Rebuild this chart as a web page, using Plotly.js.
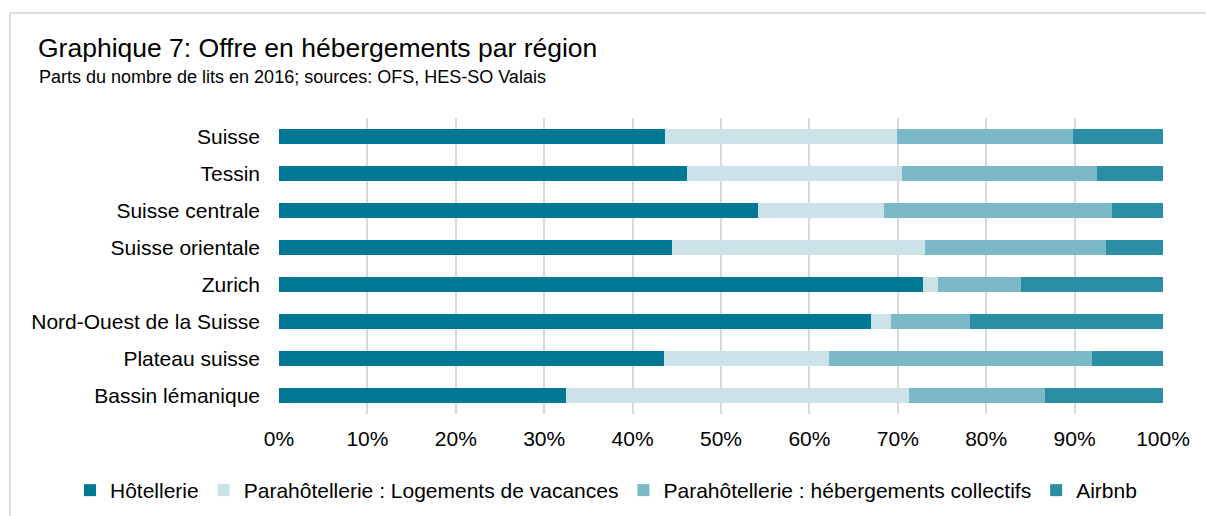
<!DOCTYPE html>
<html>
<head>
<meta charset="utf-8">
<script src="https://cdn.plot.ly/plotly-3.0.1.min.js"></script>
<style>
  html, body { margin: 0; padding: 0; background: #ffffff; }
  #wrap { position: relative; width: 1206px; height: 516px; }
  #chart { width: 1206px; height: 516px; }
  #frame { position: absolute; left: 9px; top: 12px; width: 1197px; height: 504px;
           border-top: 2px solid #dedede; border-left: 2px solid #dedede; pointer-events: none; }
</style>
</head>
<body>
<div id="wrap">
  <div id="chart"></div>
  <div id="frame"></div>
</div>
<script>
// Categories (top to bottom)
const regions = ["Suisse", "Tessin", "Suisse centrale", "Suisse orientale", "Zurich",
                 "Nord-Ouest de la Suisse", "Plateau suisse", "Bassin lémanique"];
// Shares of beds in 2016 (%)
const hotellerie = [43.7, 46.2, 54.2, 44.4, 72.9, 67.0, 43.6, 32.5];
const logementsVacances = [26.2, 24.3, 14.2, 28.7, 1.7, 2.2, 18.6, 38.8];
const hebergementsCollectifs = [19.9, 22.0, 25.8, 20.4, 9.3, 9.0, 29.8, 15.4];
const airbnb = [10.2, 7.5, 5.8, 6.5, 16.1, 21.8, 8.0, 13.3];
const seriesNames = ["Hôtellerie", "Parahôtellerie : Logements de vacances",
                     "Parahôtellerie : hébergements collectifs", "Airbnb"];
const seriesColors = ["#007894", "#cbe3e8", "#7bb9c9", "#2a8ea5"];
const tickVals = [0, 10, 20, 30, 40, 50, 60, 70, 80, 90, 100];
const titleText = "Graphique 7: Offre en hébergements par région";
const subtitleText = "Parts du nombre de lits en 2016; sources: OFS, HES-SO Valais";

const allValues = [hotellerie, logementsVacances, hebergementsCollectifs, airbnb];
const traces = allValues.map((vals, i) => ({
  type: "bar",
  orientation: "h",
  name: seriesNames[i],
  y: regions,
  x: vals,
  marker: { color: seriesColors[i], line: { width: 0 } },
  hovertemplate: "%{y}: %{x:.1f}%<extra>" + seriesNames[i] + "</extra>"
}));

const FONT = "Liberation Sans, Arial, sans-serif";

const layout = {
  width: 1206,
  height: 516,
  paper_bgcolor: "#ffffff",
  plot_bgcolor: "#ffffff",
  font: { family: FONT, color: "#000000" },
  margin: { l: 279, r: 43, t: 118, b: 102, pad: 0, autoexpand: false },
  barmode: "stack",
  bargap: 0.595,
  showlegend: true,
  title: {
    text: titleText,
    font: { family: FONT, size: 26.5, color: "#000000" },
    xref: "container",
    yref: "container",
    x: 38 / 1206,
    xanchor: "left",
    y: 1 - 38 / 516,
    yanchor: "top"
  },
  annotations: [{
    text: subtitleText,
    showarrow: false,
    xref: "paper",
    yref: "paper",
    x: (37 - 279) / 884,
    xanchor: "left",
    y: 1 + (118 - 65) / 296,
    yanchor: "top",
    font: { family: FONT, size: 18, color: "#000000" }
  }],
  xaxis: {
    range: [0, 100],
    tickvals: tickVals,
    ticktext: tickVals.map(v => v + "%"),
    showgrid: true,
    gridcolor: "#d9d9d9",
    gridwidth: 2,
    zeroline: false,
    showline: false,
    ticks: "",
    ticklabelstandoff: 10,
    tickfont: { family: FONT, size: 21, color: "#000000" },
    fixedrange: true
  },
  yaxis: {
    type: "category",
    autorange: "reversed",
    showgrid: false,
    zeroline: false,
    showline: false,
    ticks: "",
    ticklabelstandoff: 18,
    tickfont: { family: FONT, size: 21, color: "#000000" },
    fixedrange: true
  },
  legend: {
    orientation: "h",
    xref: "paper",
    yref: "paper",
    x: (70 - 279) / 884,
    xanchor: "left",
    y: (414 - 470) / 296,
    yanchor: "top",
    font: { family: FONT, size: 21, color: "#000000" },
    traceorder: "normal",
    itemwidth: 30,
    bgcolor: "rgba(0,0,0,0)"
  }
};

Plotly.newPlot("chart", traces, layout, { displayModeBar: false });
</script>
</body>
</html>
